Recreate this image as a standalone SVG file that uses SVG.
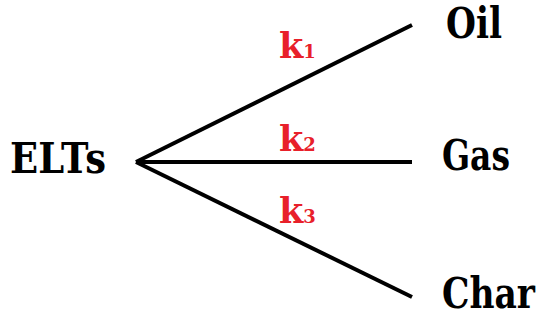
<svg xmlns="http://www.w3.org/2000/svg" width="539" height="323" viewBox="0 0 539 323">
<style>
.lbl{font-family:"DejaVu Serif",serif;font-weight:bold;font-size:42px;fill:#000}
.k{font-family:"DejaVu Serif",serif;font-weight:bold;font-size:35px;fill:#e8202a}
.sub{font-size:18px}
.edge{stroke:#000;stroke-width:4;fill:none;stroke-linecap:butt}
</style>
<rect width="539" height="323" fill="#fff"/>
<g id="connectors">
<line class="edge" x1="136" y1="162" x2="412" y2="25"/>
<line class="edge" x1="136" y1="162" x2="412" y2="162"/>
<line class="edge" x1="136" y1="162" x2="412" y2="297"/>
<text class="k" x="279" y="58">k<tspan class="sub">1</tspan></text>
<text class="k" x="279" y="151">k<tspan class="sub">2</tspan></text>
<text class="k" x="279" y="223">k<tspan class="sub">3</tspan></text>
</g>
<g id="ELTs"><text class="lbl" x="10" y="173" textLength="96" lengthAdjust="spacingAndGlyphs">ELTs</text></g>
<g id="Oil"><text class="lbl" x="446" y="38" textLength="56" lengthAdjust="spacingAndGlyphs">Oil</text></g>
<g id="Gas"><text class="lbl" x="442" y="170" textLength="68" lengthAdjust="spacingAndGlyphs">Gas</text></g>
<g id="Char"><text class="lbl" style="font-size:36px" transform="scale(1,1.167)" x="442" y="264" textLength="93" lengthAdjust="spacingAndGlyphs">Char</text></g>
</svg>
